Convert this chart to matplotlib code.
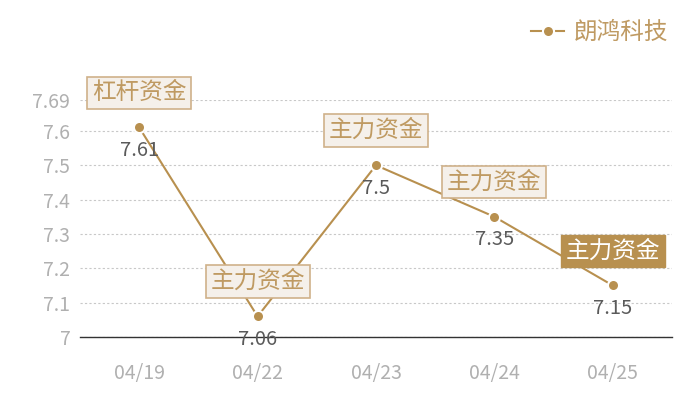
import matplotlib
matplotlib.use('Agg')
import matplotlib.pyplot as plt

plt.rcParams['font.family'] = ['Noto Sans CJK SC', 'DejaVu Sans']

dates = ['04/19', '04/22', '04/23', '04/24', '04/25']
prices = [7.61, 7.06, 7.5, 7.35, 7.15]
tags = ['杠杆资金', '主力资金', '主力资金', '主力资金', '主力资金']
highlight = [False, False, False, False, True]
yticks = [7, 7.1, 7.2, 7.3, 7.4, 7.5, 7.6, 7.69]
yticklabels = ['7', '7.1', '7.2', '7.3', '7.4', '7.5', '7.6', '7.69']
series_name = '朗鸿科技'

gold = '#b8904f'
tag_text = '#bf9a62'
tag_face = '#f5f0ea'
tag_edge = '#cfb18a'

fig = plt.figure(figsize=(7, 4), dpi=100)
ax = fig.add_axes([80 / 700, 1 - 337 / 400, 592 / 700, 237 / 400])

x = list(range(len(dates)))
ax.plot(x, prices, color=gold, lw=1.5, marker='o', ms=8, mfc=gold,
        mec='white', mew=1.5, label=series_name, zorder=3)

for i, (p, t, h) in enumerate(zip(prices, tags, highlight)):
    ax.annotate(f'{p:g}', (i, p), xytext=(0, -16.5), textcoords='offset points',
                ha='center', va='center', fontsize=14.5, color='#5a5a5a', zorder=4)
    if h:
        bbox = dict(boxstyle='square,pad=0.2', fc=gold, ec=gold, lw=1)
        tc = 'white'
    else:
        bbox = dict(boxstyle='square,pad=0.2', fc=tag_face, ec=tag_edge, lw=1.2)
        tc = tag_text
    ax.annotate(t, (i, p), xytext=(0, 25), textcoords='offset points',
                ha='center', va='center', fontsize=17, color=tc, bbox=bbox,
                zorder=5, annotation_clip=False)

ax.set_xlim(-0.5, len(dates) - 0.5)
ax.set_ylim(7, 7.69)
ax.set_xticks(x)
ax.set_xticklabels(dates)
ax.set_yticks(yticks)
ax.set_yticklabels(yticklabels)
ax.tick_params(axis='both', length=0, labelsize=14, colors='#b0b0b0')
ax.tick_params(axis='x', pad=19)
ax.tick_params(axis='y', pad=7)
ax.grid(axis='y', color='#c8c8c8', ls=(0, (2, 2)), lw=0.8)
ax.set_axisbelow(True)
for s in ['top', 'right', 'left']:
    ax.spines[s].set_visible(False)
ax.spines['bottom'].set_color('#333333')
ax.spines['bottom'].set_linewidth(1)

leg = fig.legend(loc='upper right', bbox_to_anchor=(0.985, 1.0), frameon=False,
                 fontsize=17, handlelength=1.4, handletextpad=0.4, markerscale=1.0)
for txt in leg.get_texts():
    txt.set_color(tag_text)

fig.savefig('out.png', dpi=100)
